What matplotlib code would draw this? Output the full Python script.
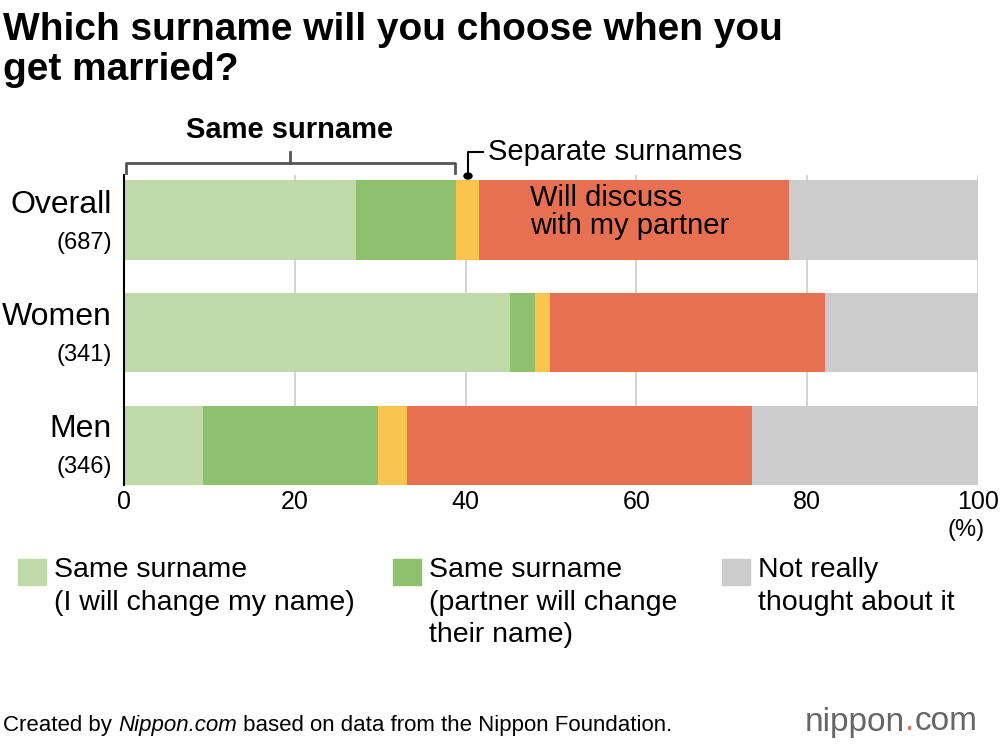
import matplotlib
matplotlib.use("Agg")
import matplotlib.pyplot as plt
import numpy as np

plt.rcParams['font.family'] = ['Liberation Sans', 'DejaVu Sans']

groups = ["Overall", "Women", "Men"]
counts = ["(687)", "(341)", "(346)"]
same_me = [27.2, 45.2, 9.3]
same_partner = [11.7, 2.9, 20.4]
separate = [2.7, 1.8, 3.4]
discuss = [36.3, 32.2, 40.4]
not_thought = [22.1, 17.9, 26.5]
series = [same_me, same_partner, separate, discuss, not_thought]
colors = ["#bfdaa8", "#8fc06d", "#f9c54e", "#e87052", "#cccccc"]

fig = plt.figure(figsize=(10, 7.48), dpi=100)
ax = fig.add_axes([0.124, 0.352, 0.854, 0.414])
y = np.arange(len(groups))
left = np.zeros(len(groups))
for vals, c in zip(series, colors):
    ax.barh(y, vals, left=left, height=0.705, color=c, zorder=2)
    left += np.array(vals)

ax.set_xlim(0, 100)
ax.set_ylim(2.35, -0.4)
ax.set_xticks([0, 20, 40, 60, 80, 100])
ax.set_xticklabels(["0", "20", "40", "60", "80", "100"], fontsize=18)
ax.tick_params(axis='x', length=0, pad=4)
ax.set_yticks([])
ax.grid(axis='x', color='#cccccc', linewidth=1.2, zorder=0)
for s in ["top", "right", "bottom"]:
    ax.spines[s].set_visible(False)
ax.spines["left"].set_color("black")
ax.spines["left"].set_linewidth(1.5)

for i, (g, n) in enumerate(zip(groups, counts)):
    fig.text(0.112, 1 - (205 + 112 * i) / 748, g, fontsize=23, ha='right', va='center', fontweight='medium')
    fig.text(0.112, 1 - (243 + 112 * i) / 748, n, fontsize=17, ha='right', va='center')

ax.text(47.5, -0.07, "Will discuss\nwith my partner", fontsize=21, va='center', linespacing=1.0, zorder=3)
fig.text(0.985, 1 - 530/748, "(%)", fontsize=17, ha='right', va='center')

# brackets
fig.lines.append(plt.Line2D([0.126, 0.126, 0.455, 0.455], [1 - 173/748, 1 - 163/748, 1 - 163/748, 1 - 173/748],
                            color='#555555', lw=2, transform=fig.transFigure))
fig.lines.append(plt.Line2D([0.29, 0.29], [1 - 163/748, 1 - 152/748], color='#555555', lw=2, transform=fig.transFigure))
fig.text(0.29, 1 - 130/748, "Same surname", fontsize=21, ha='center', va='center', fontweight='bold')
fig.lines.append(plt.Line2D([0.468, 0.468, 0.483], [1 - 176/748, 1 - 152/748, 1 - 152/748],
                            color='black', lw=1.5, transform=fig.transFigure))
fig.patches.append(plt.Circle((0.468, 1 - 176/748), 0.004, color='black', transform=fig.transFigure))
fig.text(0.488, 1 - 152/748, "Separate surnames", fontsize=21, va='center')

fig.text(0.003, 1 - 50/748, "Which surname will you choose when you\nget married?", fontsize=28,
         fontweight='bold', va='center', linespacing=1.15)

leg = [(0.018, "Same surname\n(I will change my name)", colors[0]),
       (0.393, "Same surname\n(partner will change\ntheir name)", colors[1]),
       (0.722, "Not really\nthought about it", colors[4])]
for x, t, c in leg:
    fig.patches.append(plt.Rectangle((x, 1 - 585/748), 0.028, 0.035, color=c, transform=fig.transFigure))
    fig.text(x + 0.036, 1 - 557/748, t, fontsize=20.5, va='top', linespacing=1.33)

# footer pieces placed one after the other
r = fig.canvas.get_renderer()
def chain(parts, x0, yy):
    x = x0
    for txt, kw in parts:
        t = fig.text(x, yy, txt, va='center', **kw)
        bb = t.get_window_extent(renderer=r)
        x += bb.width / fig.bbox.width
    return x

chain([("Created by ", dict(fontsize=16)), ("Nippon.com", dict(fontsize=16, style='italic')),
       (" based on data from the Nippon Foundation.", dict(fontsize=16))], 0.003, 1 - 726/748)
chain([("nippon", dict(fontsize=24, color='#666666')), (".", dict(fontsize=24, color='#e87052')),
       ("com", dict(fontsize=24, color='#666666'))], 0.805, 1 - 722/748)

fig.savefig("out.png", dpi=100)
